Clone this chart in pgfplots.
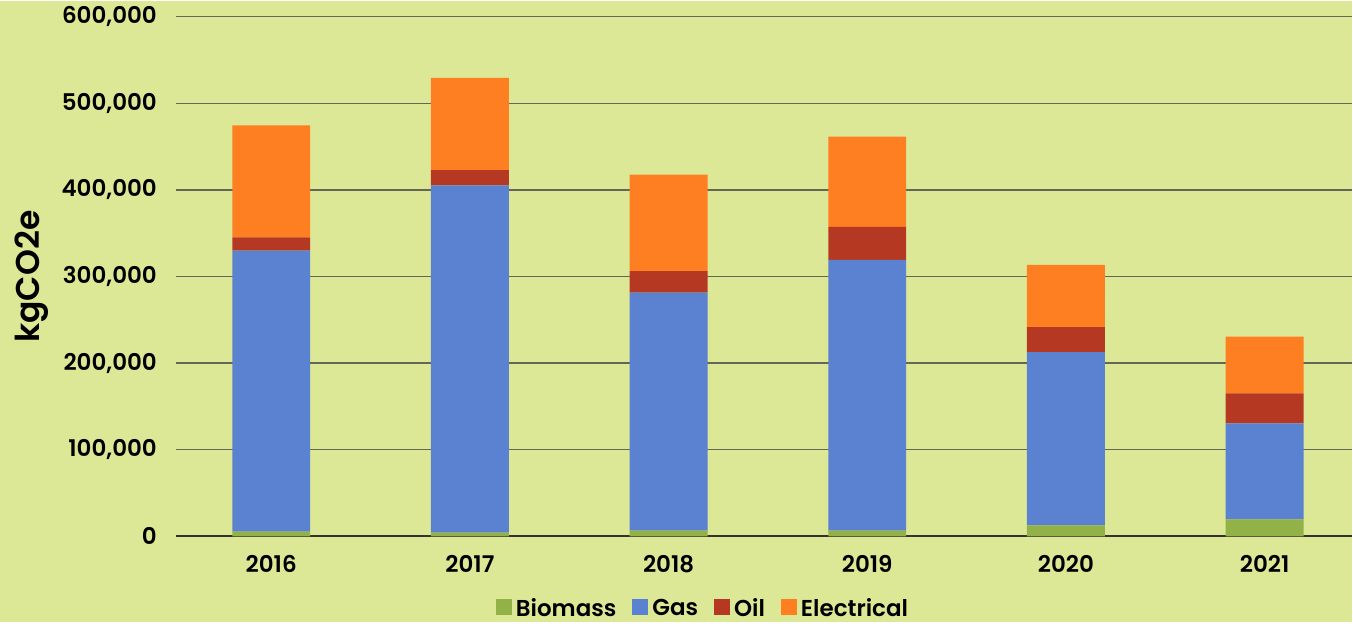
\documentclass[border=0pt]{standalone}
\usepackage{fontspec}
\setmainfont{Poppins}[BoldFont={Poppins SemiBold}]
\usepackage{pgfplots}
\pgfplotsset{compat=1.18}
\definecolor{bgc}{RGB}{220,232,150}
\definecolor{biomass}{RGB}{146,177,70}
\definecolor{gas}{RGB}{91,130,209}
\definecolor{oil}{RGB}{181,57,34}
\definecolor{elec}{RGB}{254,127,33}
\definecolor{gridc}{RGB}{100,103,85}

\begin{document}
\begin{tikzpicture}
\fill[bgc] (-88pt,-43pt) rectangle (588.5pt,268pt);
\begin{axis}[
  scale only axis,
  width=588.5pt, height=260pt,
  ybar stacked,
  bar width=39pt,
  xmin=-0.48, xmax=5.44,
  ymin=0, ymax=600000,
  ytick distance=100000,
  scaled y ticks=false,
  xtick={0,1,2,3,4,5},
  xticklabels={2016,2017,2018,2019,2020,2021},
  yticklabel style={/pgf/number format/fixed, /pgf/number format/1000 sep={,},
    /pgf/number format/assume math mode=true, xshift=-6pt},
  tick label style={font=\fontsize{11.5}{13}\selectfont\bfseries},
  ylabel={kgCO2e},
  ylabel style={font=\fontsize{16.5}{19}\selectfont\bfseries, at={(axis description cs:-0.1225,0.5)}, anchor=center},
  axis x line*=bottom,
  axis y line*=left,
  y axis line style={draw=none},
  x axis line style={draw=black!80, line width=1pt, -},
  major tick length=0pt,
  xtick style={draw=none},
  ytick style={draw=none},
  xticklabel style={yshift=-6pt},
  ymajorgrids,
  grid style={draw=gridc, line width=0.7pt},
  legend style={draw=none, fill=none, at={(0.449,-0.14)}, anchor=center,
    legend columns=4, font=\fontsize{11.5}{13}\selectfont\bfseries,
    /tikz/every even column/.append style={column sep=6pt}},
  legend image code/.code={\fill[#1] (0pt,-3pt) rectangle (8pt,5pt);},
  clip=false,
]
\addplot[fill=biomass, draw=none] coordinates {(0,5500) (1,4400) (2,6700) (3,6700) (4,12600) (5,19600)};
\addplot[fill=gas, draw=none] coordinates {(0,324500) (1,401000) (2,274800) (3,312600) (4,200300) (5,111000)};
\addplot[fill=oil, draw=none] coordinates {(0,15400) (1,17500) (2,24800) (3,38000) (4,28800) (5,34500)};
\addplot[fill=elec, draw=none] coordinates {(0,129300) (1,106500) (2,111300) (3,104200) (4,71700) (5,65500)};
\legend{Biomass,Gas,Oil,Electrical}
\end{axis}
\end{tikzpicture}
\end{document}
